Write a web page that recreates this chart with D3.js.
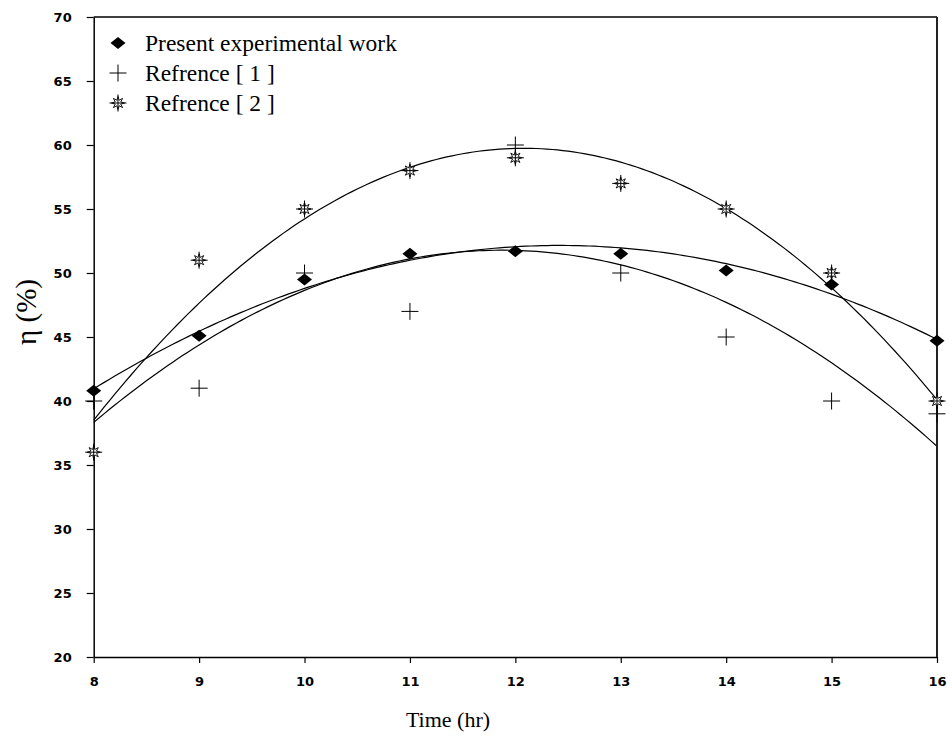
<!DOCTYPE html>
<html lang="en">
<head>
<meta charset="UTF-8">
<title>Efficiency vs time</title>
<script src="https://d3js.org/d3.v7.min.js"></script>
<style>
  body { margin: 0; background: #fff; }
  .tick text { font-family: "DejaVu Sans", sans-serif; font-weight: bold; font-size: 13px; }
</style>
</head>
<body>
<script>
// data
const hours = [8, 9, 10, 11, 12, 13, 14, 15, 16];
const present = [40.8, 45.1, 49.5, 51.5, 51.7, 51.5, 50.2, 49.1, 44.7];
const ref1 = [40, 41, 50, 47, 60, 50, 45, 40, 39];
const ref2 = [36, 51, 55, 58, 59, 57, 55, 50, 40];
const xTicks = [8, 9, 10, 11, 12, 13, 14, 15, 16];
const yTicks = [20, 25, 30, 35, 40, 45, 50, 55, 60, 65, 70];

const width = 952, height = 738;
const svg = d3.select("body").append("svg")
    .attr("width", width)
    .attr("height", height);

const x = d3.scaleLinear().domain([8, 16]).range([93.7, 937]);
const y = d3.scaleLinear().domain([20, 70]).range([657, 17]);

// least squares quadratic fit (what the original regression lines are)
function quadFit(xs, ys) {
    let s = [0, 0, 0, 0, 0], t = [0, 0, 0];
    xs.forEach((xv, i) => {
        for (let k = 0; k < 5; k++) s[k] += Math.pow(xv, k);
        for (let k = 0; k < 3; k++) t[k] += Math.pow(xv, k) * ys[i];
    });
    const A = [[s[0], s[1], s[2], t[0]], [s[1], s[2], s[3], t[1]], [s[2], s[3], s[4], t[2]]];
    for (let i = 0; i < 3; i++) {
        for (let j = i + 1; j < 3; j++) {
            const f = A[j][i] / A[i][i];
            for (let k = i; k < 4; k++) A[j][k] -= f * A[i][k];
        }
    }
    const c = [0, 0, 0];
    for (let i = 2; i >= 0; i--) {
        let v = A[i][3];
        for (let k = i + 1; k < 3; k++) v -= A[i][k] * c[k];
        c[i] = v / A[i][i];
    }
    return xv => c[0] + c[1] * xv + c[2] * xv * xv;
}

const line = d3.line().x(d => x(d[0])).y(d => y(d[1]));
const samples = d3.range(8, 16.0001, 0.05);

[present, ref1, ref2].forEach(series => {
    const f = quadFit(hours, series);
    svg.append("path")
        .attr("d", line(samples.map(h => [h, f(h)])))
        .attr("fill", "none")
        .attr("stroke", "#000")
        .attr("stroke-width", 1.2);
});

// axes
const yAxis = svg.append("g")
    .attr("transform", `translate(${x(8)},0)`)
    .call(d3.axisLeft(y).tickValues(yTicks).tickSize(7).tickPadding(15).tickSizeOuter(0));
const xAxis = svg.append("g")
    .attr("transform", `translate(0,${y(20)})`)
    .call(d3.axisBottom(x).tickValues(xTicks).tickSize(6).tickPadding(14).tickSizeOuter(0));
[yAxis, xAxis].forEach(g => {
    g.select(".domain").attr("stroke", "#000").attr("stroke-width", 1.5);
    g.selectAll(".tick line").attr("stroke", "#000").attr("stroke-width", 1.2);
    g.selectAll(".tick text").attr("fill", "#000");
});

// top and right frame
svg.append("line").attr("x1", x(8)).attr("x2", x(16)).attr("y1", y(70)).attr("y2", y(70))
    .attr("stroke", "#000").attr("stroke-width", 1.5);
svg.append("line").attr("x1", x(16)).attr("x2", x(16)).attr("y1", y(70)).attr("y2", y(20))
    .attr("stroke", "#222").attr("stroke-width", 2);

// marker shapes
function diamond(g) {
    g.append("path").attr("d", "M0,-6L7.5,0L0,6L-7.5,0Z").attr("fill", "#000");
}
function plus(g) {
    g.append("path").attr("d", "M-8.5,0H8.5M0,-8.5V8.5").attr("stroke", "#000").attr("stroke-width", 1);
}
function star(g) {
    const pts = [];
    for (let i = 0; i < 16; i++) {
        const a = i * Math.PI / 8 - Math.PI / 2;
        const r = i % 2 === 0 ? 6.5 : 3;
        pts.push([r * Math.cos(a), r * Math.sin(a)]);
    }
    g.append("path").attr("d", "M" + pts.join("L") + "Z")
        .attr("fill", "#fff").attr("stroke", "#000").attr("stroke-width", 0.9);
    g.append("path").attr("d", "M-8.5,0H8.5M0,-8.5V8.5").attr("stroke", "#000").attr("stroke-width", 1);
}

const seriesList = [
    { name: "Present experimental work", values: present, shape: diamond },
    { name: "Refrence [ 1 ]", values: ref1, shape: plus },
    { name: "Refrence [ 2 ]", values: ref2, shape: star }
];

// draw plus first, then stars, then diamonds on top
[seriesList[1], seriesList[2], seriesList[0]].forEach(s => {
    s.values.forEach((v, i) => {
        const g = svg.append("g").attr("transform", `translate(${x(hours[i])},${y(v)})`);
        s.shape(g);
    });
});

// legend
seriesList.forEach((s, i) => {
    const ly = 43 + i * 30;
    const g = svg.append("g").attr("transform", `translate(118,${ly})`);
    s.shape(g);
    svg.append("text")
        .attr("x", 145).attr("y", ly + 8)
        .attr("font-family", "'Liberation Serif', 'Times New Roman', serif")
        .attr("font-size", 23.5)
        .text(s.name);
});

// axis titles
svg.append("text")
    .attr("x", 448).attr("y", 727)
    .attr("text-anchor", "middle")
    .attr("font-family", "'Liberation Serif', 'Times New Roman', serif")
    .attr("font-size", 22)
    .text("Time (hr)");

svg.append("text")
    .attr("transform", "translate(36,312) rotate(-90)")
    .attr("text-anchor", "middle")
    .attr("font-family", "'Liberation Serif', 'Times New Roman', serif")
    .attr("font-size", 29)
    .text("η (%)");
</script>
</body>
</html>
